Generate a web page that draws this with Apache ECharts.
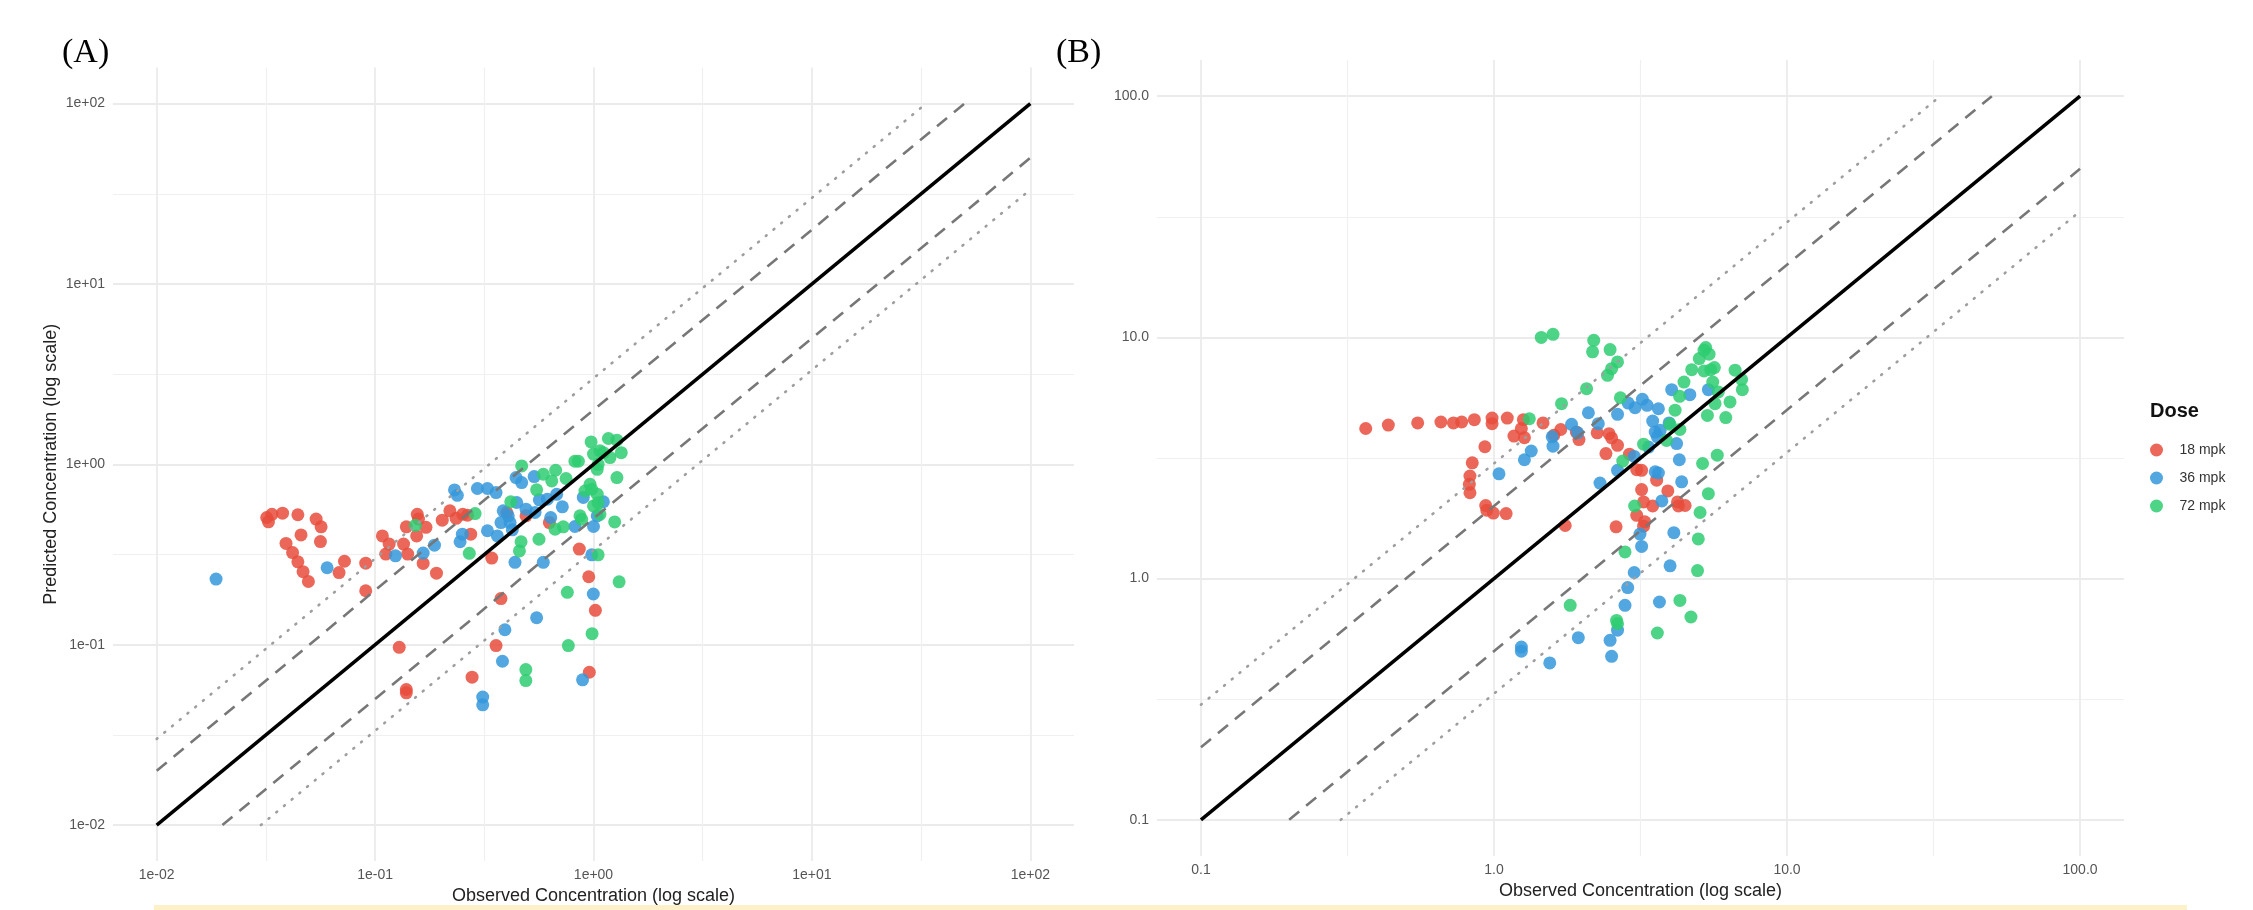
<!DOCTYPE html>
<html><head><meta charset="utf-8">
<script src="https://cdn.jsdelivr.net/npm/echarts@6/dist/echarts.min.js"></script>
<style>html,body{margin:0;padding:0;background:#fff}#c{width:2253px;height:910px}</style>
</head><body><div id="c"></div>
<script>
// ---------- data ----------
const doses = ['18 mpk', '36 mpk', '72 mpk'];
const colors = ['#E74C3C', '#3498DB', '#2ECC71'];

// Panel A (observed, predicted)
const obsA18 = [0.0319,0.0337,0.0325,0.0377,0.0443,0.0537,0.0566,0.0458,0.0562,0.0391,0.0419,0.0443,0.0468,0.0495,0.0724,0.0684,0.0906,0.0906,0.108,0.116,0.112,0.135,0.141,0.139,0.156,0.158,0.171,0.155,0.166,0.191,0.203,0.220,0.235,0.252,0.265,0.274,0.129,0.139,0.139,0.278,0.342,0.401,0.491,0.628,0.861,0.951,0.377,1.02,0.358,0.957];
const predA18 = [0.507,0.528,0.480,0.536,0.525,0.497,0.450,0.406,0.373,0.364,0.324,0.288,0.254,0.224,0.290,0.251,0.283,0.199,0.401,0.361,0.318,0.361,0.318,0.450,0.528,0.497,0.447,0.401,0.282,0.249,0.490,0.552,0.502,0.528,0.522,0.410,0.0967,0.0564,0.0541,0.0660,0.302,0.540,0.518,0.475,0.339,0.238,0.180,0.155,0.0989,0.0703];

const obsA36 = [0.0187,0.0603,0.124,0.166,0.187,0.231,0.238,0.251,0.245,0.294,0.327,0.358,0.442,0.469,0.535,0.565,0.615,0.678,0.445,0.386,0.407,0.377,0.415,0.425,0.327,0.363,0.540,0.491,0.637,0.720,0.898,1.11,1.04,1.00,0.822,0.982,0.437,0.589,0.998,0.549,0.393,0.383,0.891,0.311,0.311];
const predA36 = [0.231,0.267,0.311,0.322,0.356,0.721,0.673,0.410,0.372,0.734,0.734,0.697,0.844,0.792,0.855,0.635,0.640,0.682,0.614,0.552,0.518,0.475,0.475,0.433,0.428,0.401,0.541,0.564,0.507,0.581,0.655,0.620,0.518,0.452,0.452,0.315,0.286,0.286,0.191,0.141,0.121,0.0809,0.0638,0.0512,0.0464];

const obsA72 = [0.153,0.270,0.287,0.469,0.589,0.671,0.644,0.749,0.549,0.418,0.822,0.853,0.975,1.17,1.28,1.00,1.07,1.11,1.19,1.34,1.04,1.05,1.28,0.964,0.914,0.981,1.04,1.00,1.05,1.07,0.867,0.883,0.727,0.667,0.563,0.466,0.458,1.25,1.05,1.31,0.759,0.985,0.767,0.490,0.490];
const predA72 = [0.459,0.321,0.533,0.980,0.881,0.927,0.809,0.834,0.722,0.620,1.04,1.04,1.33,1.39,1.36,1.14,1.19,1.16,1.09,1.16,0.938,1.00,0.844,0.775,0.711,0.727,0.683,0.588,0.613,0.528,0.518,0.496,0.450,0.437,0.384,0.372,0.331,0.479,0.315,0.223,0.195,0.115,0.0988,0.0728,0.0632];

// Panel B (observed, predicted)
const obsB18 = [0.365,0.436,0.549,0.659,0.727,0.776,0.857,0.985,0.985,1.11,1.26,1.24,1.17,1.27,1.47,1.69,0.931,0.843,0.828,0.824,0.828,0.937,0.945,0.995,1.10,1.75,1.60,1.91,1.95,2.25,2.47,2.52,2.64,2.41,2.90,3.07,3.19,3.59,3.19,3.92,3.24,3.48,4.23,4.26,4.49,3.07,3.27,3.24,2.61];
const predB18 = [4.19,4.33,4.42,4.46,4.42,4.46,4.56,4.63,4.39,4.63,4.56,4.19,3.90,3.84,4.42,4.15,3.52,3.02,2.66,2.46,2.27,2.01,1.92,1.87,1.86,1.66,3.93,4.05,3.77,4.02,3.99,3.83,3.57,3.30,3.28,2.83,2.81,2.56,2.34,2.31,2.08,2.00,2.08,2.00,2.01,1.83,1.72,1.65,1.64];

const obsB36 = [1.04,1.27,1.34,1.59,1.58,1.84,1.93,2.10,2.27,2.64,2.87,3.03,3.21,3.33,3.64,4.04,4.66,5.39,3.48,3.55,3.69,3.61,3.96,4.20,4.29,3.37,3.01,2.64,2.30,3.55,3.64,4.37,3.74,3.15,3.19,4.11,3.99,3.01,2.86,2.80,3.67,2.64,2.49,2.52,1.94,1.55,1.24,1.24];
const predB36 = [2.72,3.11,3.38,3.54,3.87,4.36,4.02,4.87,4.39,4.80,5.34,5.11,5.54,5.23,5.06,6.07,5.79,6.07,4.50,4.05,4.12,3.87,4.42,3.63,3.11,3.51,3.21,2.81,2.49,2.77,2.74,2.52,2.10,1.53,1.36,1.55,1.13,1.06,0.918,0.775,0.800,0.611,0.555,0.476,0.569,0.447,0.52,0.50];

const obsB72 = [1.45,1.59,1.70,1.32,1.82,2.19,2.17,2.49,2.64,2.52,2.44,2.07,2.70,3.24,2.75,3.02,2.80,2.62,2.64,3.61,4.31,4.70,4.95,4.98,5.05,5.39,5.15,5.78,3.88,3.99,4.31,4.15,4.30,4.45,4.73,5.02,5.21,5.28,5.42,5.21,5.49,5.65,5.58,5.83,5.68,5.35,6.18,6.39,6.65,7.00,7.04];
const predB72 = [10.0,10.3,5.31,4.60,0.775,9.72,8.71,8.90,7.91,7.42,6.96,6.13,5.62,3.61,3.07,2.00,1.29,0.671,0.650,0.595,0.812,0.693,1.08,1.46,1.88,2.25,3.00,3.25,3.74,4.36,4.15,4.99,5.70,6.53,7.35,8.17,8.85,9.08,8.52,7.26,7.35,7.50,6.53,5.94,5.31,4.75,4.65,5.40,7.31,6.69,6.07];

// axes (log10 exponents of the tick values)
const majorA = [-2, -1, 0, 1, 2];
const minorA = [-1.5, -0.5, 0.5, 1.5];
const majorB = [-1, 0, 1, 2];
const minorB = [-0.5, 0.5, 1.5];
const limitsA = [0.01, 100];
const limitsB = [0.1, 100];
const folds = [1, 2, 3];

// ---------- build ----------
const L = Math.log10;
const FONT = 'Liberation Sans, Arial, sans-serif';
const fmtA = v => '1e' + (v < 0 ? '-' : '+') + String(Math.abs(v)).padStart(2, '0');
const fmtB = v => Math.pow(10, v).toFixed(1);

function axisPair(kind, gi, lim, major, minor, fmt, name, nameGap) {
  const pad = (L(lim[1]) - L(lim[0])) * 0.05;
  const min = L(lim[0]) - pad, max = L(lim[1]) + pad;
  const base = {
    type: 'value', gridIndex: gi, min, max,
    axisLine: {show: false}
  };
  const maj = Object.assign({}, base, {
    position: kind === 'x' ? 'bottom' : 'left',
    axisTick: {show: false, customValues: major},
    axisLabel: {customValues: major, formatter: fmt, color: '#555', fontSize: 14, fontFamily: FONT, margin: kind === 'x' ? 7 : 8},
    splitLine: {show: true, lineStyle: {color: '#ebebeb', width: 1.8}},
    name: name || '', nameLocation: 'middle', nameGap: nameGap || 0,
    nameTextStyle: {fontSize: 18, color: '#222', fontFamily: FONT}
  });
  const mnr = Object.assign({}, base, {
    position: kind === 'x' ? 'top' : 'right',
    axisTick: {show: false, customValues: minor},
    axisLabel: {show: false, customValues: minor},
    splitLine: {show: true, lineStyle: {color: '#f0f0f0', width: 1.2}}
  });
  return [maj, mnr];
}

const xAxes = [
  ...axisPair('x', 0, limitsA, majorA, minorA, fmtA, 'Observed Concentration (log scale)', 25),
  ...axisPair('x', 1, limitsB, majorB, minorB, fmtB, 'Observed Concentration (log scale)', 25)
];
const yAxes = [
  ...axisPair('y', 0, limitsA, majorA, minorA, fmtA, 'Predicted Concentration (log scale)', 53),
  ...axisPair('y', 1, limitsB, majorB, minorB, fmtB, '', 0)
];

const series = [];
const panelData = [
  [[obsA18, predA18], [obsA36, predA36], [obsA72, predA72]],
  [[obsB18, predB18], [obsB36, predB36], [obsB72, predB72]]
];
panelData.forEach((groups, p) => {
  groups.forEach((g, k) => {
    series.push({
      type: 'scatter', name: doses[k], xAxisIndex: p * 2, yAxisIndex: p * 2,
      data: g[0].map((o, i) => [L(o), L(g[1][i])]),
      symbolSize: 13, itemStyle: {color: colors[k], opacity: 0.85},
      z: 2, silent: true, animation: false
    });
  });
});

const foldStyle = {
  1: {color: '#000', width: 3.5, type: 'solid'},
  2: {color: '#777777', width: 2.6, type: [13, 9]},
  3: {color: '#9e9e9e', width: 2.6, type: [1, 9], cap: 'round'}
};
[limitsA, limitsB].forEach((lim, p) => {
  const lo = lim[0], hi = lim[1];
  folds.forEach(f => {
    const segs = f === 1 ? [[[lo, lo], [hi, hi]]]
      : [[[lo, lo * f], [hi / f, hi]], [[lo * f, lo], [hi, hi / f]]];
    segs.forEach(s => {
      series.push({
        type: 'line', xAxisIndex: p * 2, yAxisIndex: p * 2,
        data: s.map(pt => [L(pt[0]), L(pt[1])]),
        symbol: 'none', lineStyle: foldStyle[f], z: 3, silent: true, animation: false
      });
    });
  });
});

const chart = echarts.init(document.getElementById('c'), null, {renderer: 'canvas'});
chart.setOption({
  backgroundColor: '#fff',
  animation: false,
  grid: [
    {left: 113, top: 67.5, width: 961, height: 795},
    {left: 1157, top: 60, width: 967, height: 796}
  ],
  xAxis: xAxes,
  yAxis: yAxes,
  legend: {
    data: doses, orient: 'vertical', left: 2145, top: 438,
    icon: 'circle', itemWidth: 36, itemHeight: 13, itemGap: 14,
    textStyle: {fontSize: 14, color: '#333', fontFamily: FONT, lineHeight: 14},
    selectedMode: false
  },
  graphic: [
    {type: 'text', left: 2150, top: 401, style: {text: 'Dose', font: 'bold 20px ' + FONT, fill: '#111'}},
    {type: 'text', x: 62, y: 53, style: {text: '(A)', font: '34px Liberation Serif, Times New Roman, serif', fill: '#000', verticalAlign: 'middle'}},
    {type: 'text', x: 1056, y: 53, style: {text: '(B)', font: '34px Liberation Serif, Times New Roman, serif', fill: '#000', verticalAlign: 'middle'}},
    {type: 'rect', shape: {x: 154, y: 905, width: 2033, height: 5}, style: {fill: '#FDF1C9'}}
  ],
  series
});
</script></body></html>
